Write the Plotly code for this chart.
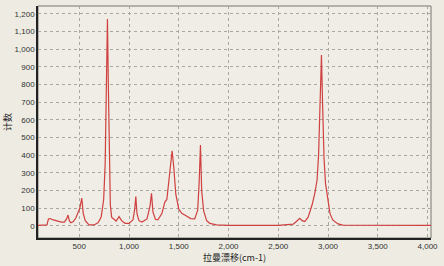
import plotly.graph_objects as go

wavenumber = [85, 140, 175, 190, 205, 230, 275, 320, 350, 372, 387, 400, 415, 440, 465, 485, 505, 525,
              540, 560, 598, 650, 690, 720, 745, 760, 772, 783, 792, 803, 812, 825, 850, 870, 900, 925,
              960, 1000, 1040, 1058, 1068, 1080, 1100, 1130, 1180, 1210, 1226, 1240, 1265, 1290, 1330,
              1360, 1380, 1400, 1420, 1433, 1450, 1470, 1500, 1530, 1577, 1620, 1660, 1690, 1705, 1718,
              1730, 1750, 1780, 1812, 1880, 2000, 2500, 2650, 2690, 2716, 2740, 2766, 2800, 2840, 2867,
              2890, 2905, 2920, 2934, 2945, 2960, 2975, 3000, 3020, 3047, 3100, 3150, 3500, 4035]
counts = [3, 3, 6, 40, 42, 36, 28, 22, 22, 40, 62, 30, 18, 25, 45, 75, 100, 158,
          70, 30, 6, 6, 20, 50, 150, 350, 800, 1172, 800, 350, 120, 50, 35, 28, 53, 30,
          15, 15, 35, 100, 166, 70, 30, 22, 40, 110, 185, 80, 38, 35, 70,
          135, 150, 250, 380, 426, 330, 180, 95, 72, 57, 42, 40, 90, 250, 458,
          200, 85, 30, 15, 6, 4, 4, 10, 30, 43, 30, 25, 50, 120, 185,
          260, 400, 700, 968, 700, 380, 240, 147, 70, 34, 12, 5, 3, 3]

x_ticks = [500, 1000, 1500, 2000, 2500, 3000, 3500, 4000]
y_ticks = list(range(0, 1201, 100))

fig = go.Figure()
fig.add_trace(go.Scatter(x=wavenumber, y=counts, mode="lines",
                         line=dict(color="#D04040", width=1.2), hoverinfo="skip"))

bg = "#EDEBE2"
fig.update_layout(
    width=444, height=266,
    margin=dict(l=38, r=13, t=6, b=28),
    paper_bgcolor=bg, plot_bgcolor="#EFEDE5",
    showlegend=False,
    font=dict(family="Liberation Sans, Arial, sans-serif", size=8, color="#333333"),
)
fig.update_xaxes(
    range=[85, 4035], tickvals=x_ticks, tickformat=",d", automargin=False,
    showgrid=True, gridcolor="#A8A8A0", griddash="dot", gridwidth=1,
    showline=True, linecolor="#222222", linewidth=1.5, mirror=False,
    zeroline=False, ticks="", tickfont=dict(size=8, color="#333333"),
    title=dict(text="拉曼漂移(cm-1)", font=dict(size=9, family="Noto Sans CJK SC", color="#222222"), standoff=0),
)
fig.update_yaxes(
    range=[-68, 1245], tickvals=y_ticks, tickformat=",d", automargin=False,
    showgrid=True, gridcolor="#A8A8A0", griddash="dot", gridwidth=1,
    showline=True, linecolor="#222222", linewidth=1.5,
    zeroline=False, ticks="", tickfont=dict(size=8, color="#333333"),
    title=dict(text="计数", font=dict(size=9, family="Noto Sans CJK SC", color="#222222"), standoff=1),
)
# frame on top/right
fig.add_shape(type="rect", xref="paper", yref="paper", x0=0, y0=0, x1=1, y1=1,
              line=dict(color="#777770", width=1), layer="below")

fig.write_html("out.html")
